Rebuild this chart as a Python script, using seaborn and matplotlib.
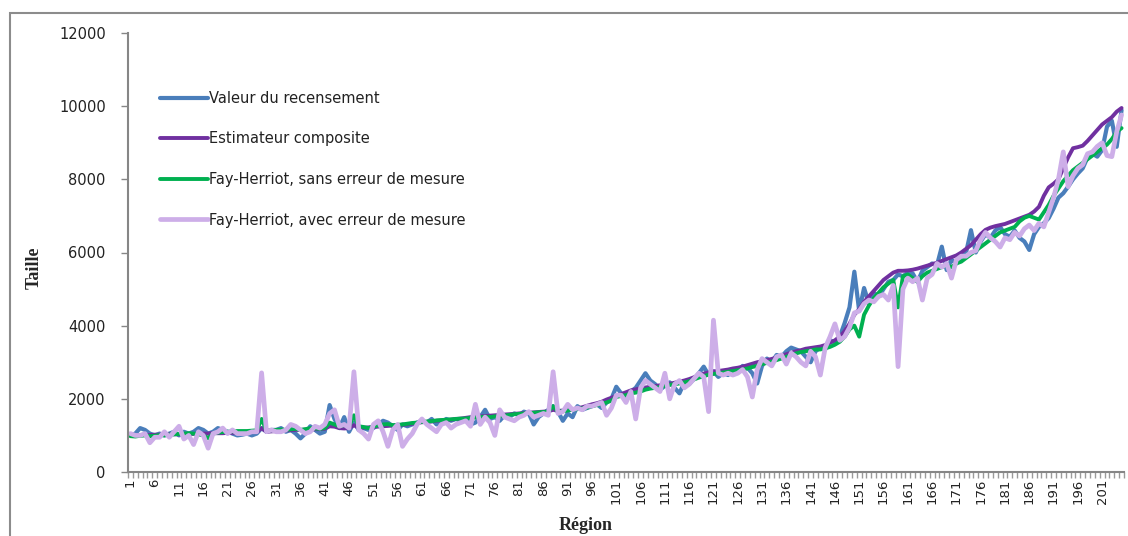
import matplotlib
matplotlib.use('Agg')
import matplotlib.pyplot as plt
from matplotlib.patches import Rectangle
import numpy as np
import pandas as pd
import seaborn as sns

#%% DONNEES
# = = = = =

regions = list(range(1, 206))

estimateur_composite = [
    1000, 1000, 1010, 1010, 1010, 1020, 1020, 1020, 1030, 1030,
    1030, 1040, 1040, 1040, 1050, 1050, 1050, 1060, 1060, 1060,
    1070, 1070, 1070, 1080, 1080, 1090, 1090, 1200, 1100, 1110,
    1120, 1130, 1140, 1140, 1150, 1150, 1160, 1160, 1170, 1170,
    1180, 1250, 1240, 1200, 1190, 1200, 1280, 1210, 1210, 1220,
    1230, 1240, 1250, 1260, 1270, 1280, 1290, 1300, 1320, 1340,
    1360, 1370, 1380, 1400, 1410, 1420, 1430, 1450, 1460, 1480,
    1500, 1510, 1520, 1530, 1540, 1550, 1560, 1570, 1580, 1590,
    1600, 1610, 1620, 1630, 1640, 1650, 1660, 1700, 1670, 1680,
    1700, 1720, 1740, 1770, 1810, 1850, 1880, 1920, 1980, 2030,
    2080, 2130, 2180, 2230, 2260, 2290, 2310, 2330, 2350, 2370,
    2390, 2410, 2440, 2470, 2500, 2540, 2590, 2640, 2690, 2720,
    2750, 2760, 2780, 2800, 2830, 2850, 2880, 2920, 2960, 3000,
    3030, 3060, 3090, 3130, 3170, 3220, 3260, 3300, 3330, 3370,
    3390, 3410, 3430, 3470, 3530, 3600, 3700, 3850, 4050, 4300,
    4450, 4650, 4800, 4950, 5100, 5250, 5350, 5450, 5500, 5500,
    5510, 5530, 5560, 5600, 5640, 5680, 5720, 5770, 5820, 5870,
    5920, 6000, 6100, 6200, 6350, 6500, 6620, 6680, 6720, 6750,
    6780, 6830, 6880, 6930, 6980, 7030, 7120, 7250, 7550, 7780,
    7880, 8000, 8300, 8600, 8850, 8880, 8920, 9050, 9200, 9350,
    9500, 9600, 9700, 9850, 9950]

valeur_recensement = [
    1000, 1050, 1200, 1150, 1050, 1000, 1050, 1000, 1050, 1100,
    1000, 1100, 1050, 1100, 1200, 1150, 1050, 1100, 1200, 1150,
    1100, 1050, 1000, 1020, 1050, 1000, 1050, 1200, 1100, 1150,
    1150, 1200, 1100, 1150, 1050, 920, 1050, 1250, 1150, 1050,
    1100, 1830, 1450, 1200, 1500, 1100, 1350, 1150, 1200, 1150,
    1200, 1300, 1400, 1350, 1250, 1150, 1300, 1250, 1300, 1350,
    1400, 1350, 1450, 1300, 1350, 1450, 1400, 1450, 1400, 1450,
    1300, 1350, 1500, 1700, 1450, 1500, 1400, 1550, 1500, 1600,
    1550, 1650, 1600, 1300, 1500, 1600, 1700, 1800, 1650, 1400,
    1600, 1500, 1800, 1700, 1750, 1800, 1850, 1750, 1900, 2000,
    2330, 2150, 2050, 2200, 2300, 2500, 2700, 2500, 2400, 2250,
    2350, 2450, 2300, 2150, 2450, 2400, 2550, 2700, 2880, 2650,
    2750, 2600, 2700, 2650, 2800, 2750, 2900, 2850, 2700, 2420,
    2900, 3100, 3000, 3200, 3150, 3300, 3400, 3350, 3300, 3150,
    3000, 3300, 3400, 3350, 3600, 3550, 3700, 4070, 4500, 5475,
    4400, 5030, 4600, 4900, 4800, 5000, 5200, 5250, 5400, 5350,
    5450, 5430, 5200, 5500, 5600, 5700, 5650, 6160, 5520, 5800,
    5700, 5900, 6000, 6610, 6000, 6300, 6500, 6400, 6600, 6700,
    6500, 6430, 6600, 6400, 6300, 6070, 6500, 6700, 6800, 6940,
    7200, 7500, 7620, 7800, 8000, 8160, 8300, 8600, 8700, 8620,
    8800, 9440, 9600, 8890, 9890]

fh_sans_erreur = [
    980, 970, 990, 1000, 980, 990, 1010, 1000, 1020, 1030,
    1040, 1050, 1060, 1050, 1030, 1000, 920, 1050, 1080, 1090,
    1100, 1110, 1120, 1120, 1120, 1130, 1140, 1450, 1130, 1140,
    1150, 1160, 1150, 1170, 1180, 1150, 1170, 1200, 1190, 1180,
    1200, 1350, 1300, 1250, 1280, 1250, 1550, 1250, 1230, 1200,
    1250, 1270, 1300, 1310, 1280, 1290, 1300, 1320, 1340, 1350,
    1370, 1380, 1390, 1410, 1420, 1430, 1440, 1450, 1460, 1460,
    1480, 1490, 1500, 1510, 1500, 1520, 1530, 1540, 1560, 1580,
    1590, 1600, 1610, 1620, 1630, 1640, 1650, 1800, 1650, 1660,
    1680, 1700, 1720, 1740, 1760, 1800, 1830, 1860, 1900, 1950,
    2050, 2080, 2100, 2150, 2170, 2200, 2250, 2280, 2300, 2320,
    2350, 2380, 2400, 2420, 2450, 2480, 2530, 2580, 2620, 2660,
    2680, 2700, 2720, 2740, 2760, 2780, 2800, 2830, 2870, 2900,
    2950, 2980, 3020, 3060, 3100, 3150, 3200, 3240, 3280, 3300,
    3320, 3350, 3350, 3380, 3420, 3480, 3560, 3700, 3900, 4000,
    3700, 4300, 4550, 4750, 4900, 5050, 5150, 5250, 4500, 5350,
    5400, 5300, 5200, 5350, 5450, 5500, 5550, 5600, 5650, 5600,
    5700, 5750, 5850, 5950, 6050, 6150, 6250, 6350, 6450, 6550,
    6600, 6650, 6700, 6850, 6950, 7000, 6950, 6900, 7100, 7300,
    7550, 7750, 7950, 8100, 8250, 8350, 8450, 8550, 8650, 8750,
    8850, 8950, 9100, 9300, 9400]

fh_avec_erreur = [
    1050, 1000, 1000, 1050, 800, 950, 950, 1100, 950, 1100,
    1250, 900, 1000, 750, 1100, 1000, 650, 1050, 1100, 1200,
    1050, 1150, 1050, 1050, 1050, 1100, 1100, 2710, 1100, 1150,
    1100, 1100, 1150, 1300, 1250, 1150, 1050, 1100, 1250, 1200,
    1300, 1600, 1700, 1250, 1300, 1200, 2740, 1150, 1050, 900,
    1300, 1400, 1100, 700, 1150, 1300, 700, 900, 1050, 1300,
    1450, 1300, 1200, 1100, 1300, 1350, 1200, 1300, 1350, 1400,
    1250, 1850, 1300, 1500, 1350, 1000, 1700, 1500, 1450, 1400,
    1500, 1550, 1650, 1500, 1550, 1600, 1550, 2740, 1600, 1650,
    1850, 1700, 1750, 1700, 1800, 1800, 1850, 1900, 1550, 1750,
    2100, 2100, 1900, 2200, 1450, 2300, 2500, 2400, 2300, 2200,
    2700, 2000, 2400, 2500, 2300, 2400, 2550, 2700, 2600, 1650,
    4150, 2700, 2650, 2700, 2650, 2700, 2800, 2600, 2050, 2800,
    3100, 3000, 2900, 3150, 3200, 2950, 3250, 3150, 3000, 2900,
    3300, 3150, 2650, 3400, 3700, 4050, 3600, 3700, 3950, 4350,
    4400, 4600, 4700, 4650, 4800, 4850, 4700, 5100, 2880, 5000,
    5300, 5200, 5300, 4700, 5300, 5400, 5700, 5600, 5700, 5300,
    5800, 5900, 5900, 6000, 6050, 6350, 6550, 6400, 6300, 6150,
    6400, 6350, 6550, 6450, 6650, 6750, 6600, 6800, 6700, 7100,
    7500, 8000, 8750, 7800, 8100, 8300, 8400, 8700, 8750, 8900,
    9000, 8650, 8620, 9300, 9760]

series = {
    'Valeur du recensement': valeur_recensement,
    'Estimateur composite': estimateur_composite,
    'Fay-Herriot, sans erreur de mesure': fh_sans_erreur,
    'Fay-Herriot, avec erreur de mesure': fh_avec_erreur,
}
couleurs = ['#4A7EBB', '#7030A0', '#00B050', '#CDAEE8']
epaisseurs = [3.0, 2.8, 2.8, 3.4]

#%% FIGURE
# = = = = =

sns.set_style('white')
plt.rcParams['font.family'] = ['DejaVu Sans']

fig = plt.figure(figsize=(11.28, 5.36), dpi=100)
ax = fig.add_axes([128/1128, 1 - 472/536, 996/1128, 439/536])

for (nom, valeurs), c, lw in zip(series.items(), couleurs, epaisseurs):
    df = pd.DataFrame({'Région': regions, 'Taille': valeurs})
    sns.lineplot(data=df, x='Région', y='Taille', color=c, linewidth=lw,
                 label=nom, ax=ax)

ax.set_xlim(0.5, 205.5)
ax.set_ylim(0, 12000)

# axe x : graduations de catégories
ax.set_xticks(range(1, 206, 5))
ax.set_xticklabels([str(i) for i in range(1, 206, 5)], rotation=90, fontsize=9.5)
ax.set_xticks(np.arange(0.5, 206, 1), minor=True)
ax.tick_params(axis='x', which='major', length=0, pad=5, colors='#222222')
ax.tick_params(axis='x', which='minor', length=4, width=1, color='#9a9a9a',
               direction='out', bottom=True)

# axe y
ax.set_yticks(range(0, 12001, 2000))
ax.tick_params(axis='y', which='major', length=5, width=1, color='#868686',
               direction='out', pad=11, labelsize=10.5, labelcolor='#222222',
               left=True)

for s in ['top', 'right']:
    ax.spines[s].set_visible(False)
for s in ['left', 'bottom']:
    ax.spines[s].set_color('#868686')
    ax.spines[s].set_linewidth(1.5)

ax.set_xlabel('Région', fontsize=13, fontweight='bold',
              family=['Liberation Serif', 'DejaVu Serif'])
ax.set_ylabel('Taille', fontsize=13, fontweight='bold',
              family=['Liberation Serif', 'DejaVu Serif'])
ax.xaxis.set_label_coords(0.459, -0.103)
ax.yaxis.set_label_coords(-0.086, 0.465)

leg = ax.legend(loc='upper left', bbox_to_anchor=(0.032, 0.868), frameon=False,
                fontsize=10.5, handlelength=3.3, handletextpad=0.05,
                labelspacing=1.75, borderpad=0, borderaxespad=0)
for t in leg.get_texts():
    t.set_color('#222222')

# cadre extérieur du graphique
fig.patches.append(Rectangle((10/1128, -0.1), 1.2, 1 - 13/536 + 0.1,
                             transform=fig.transFigure, fill=False,
                             edgecolor='#8c8c8c', linewidth=1.5))

plt.savefig('out.png', dpi=100)
